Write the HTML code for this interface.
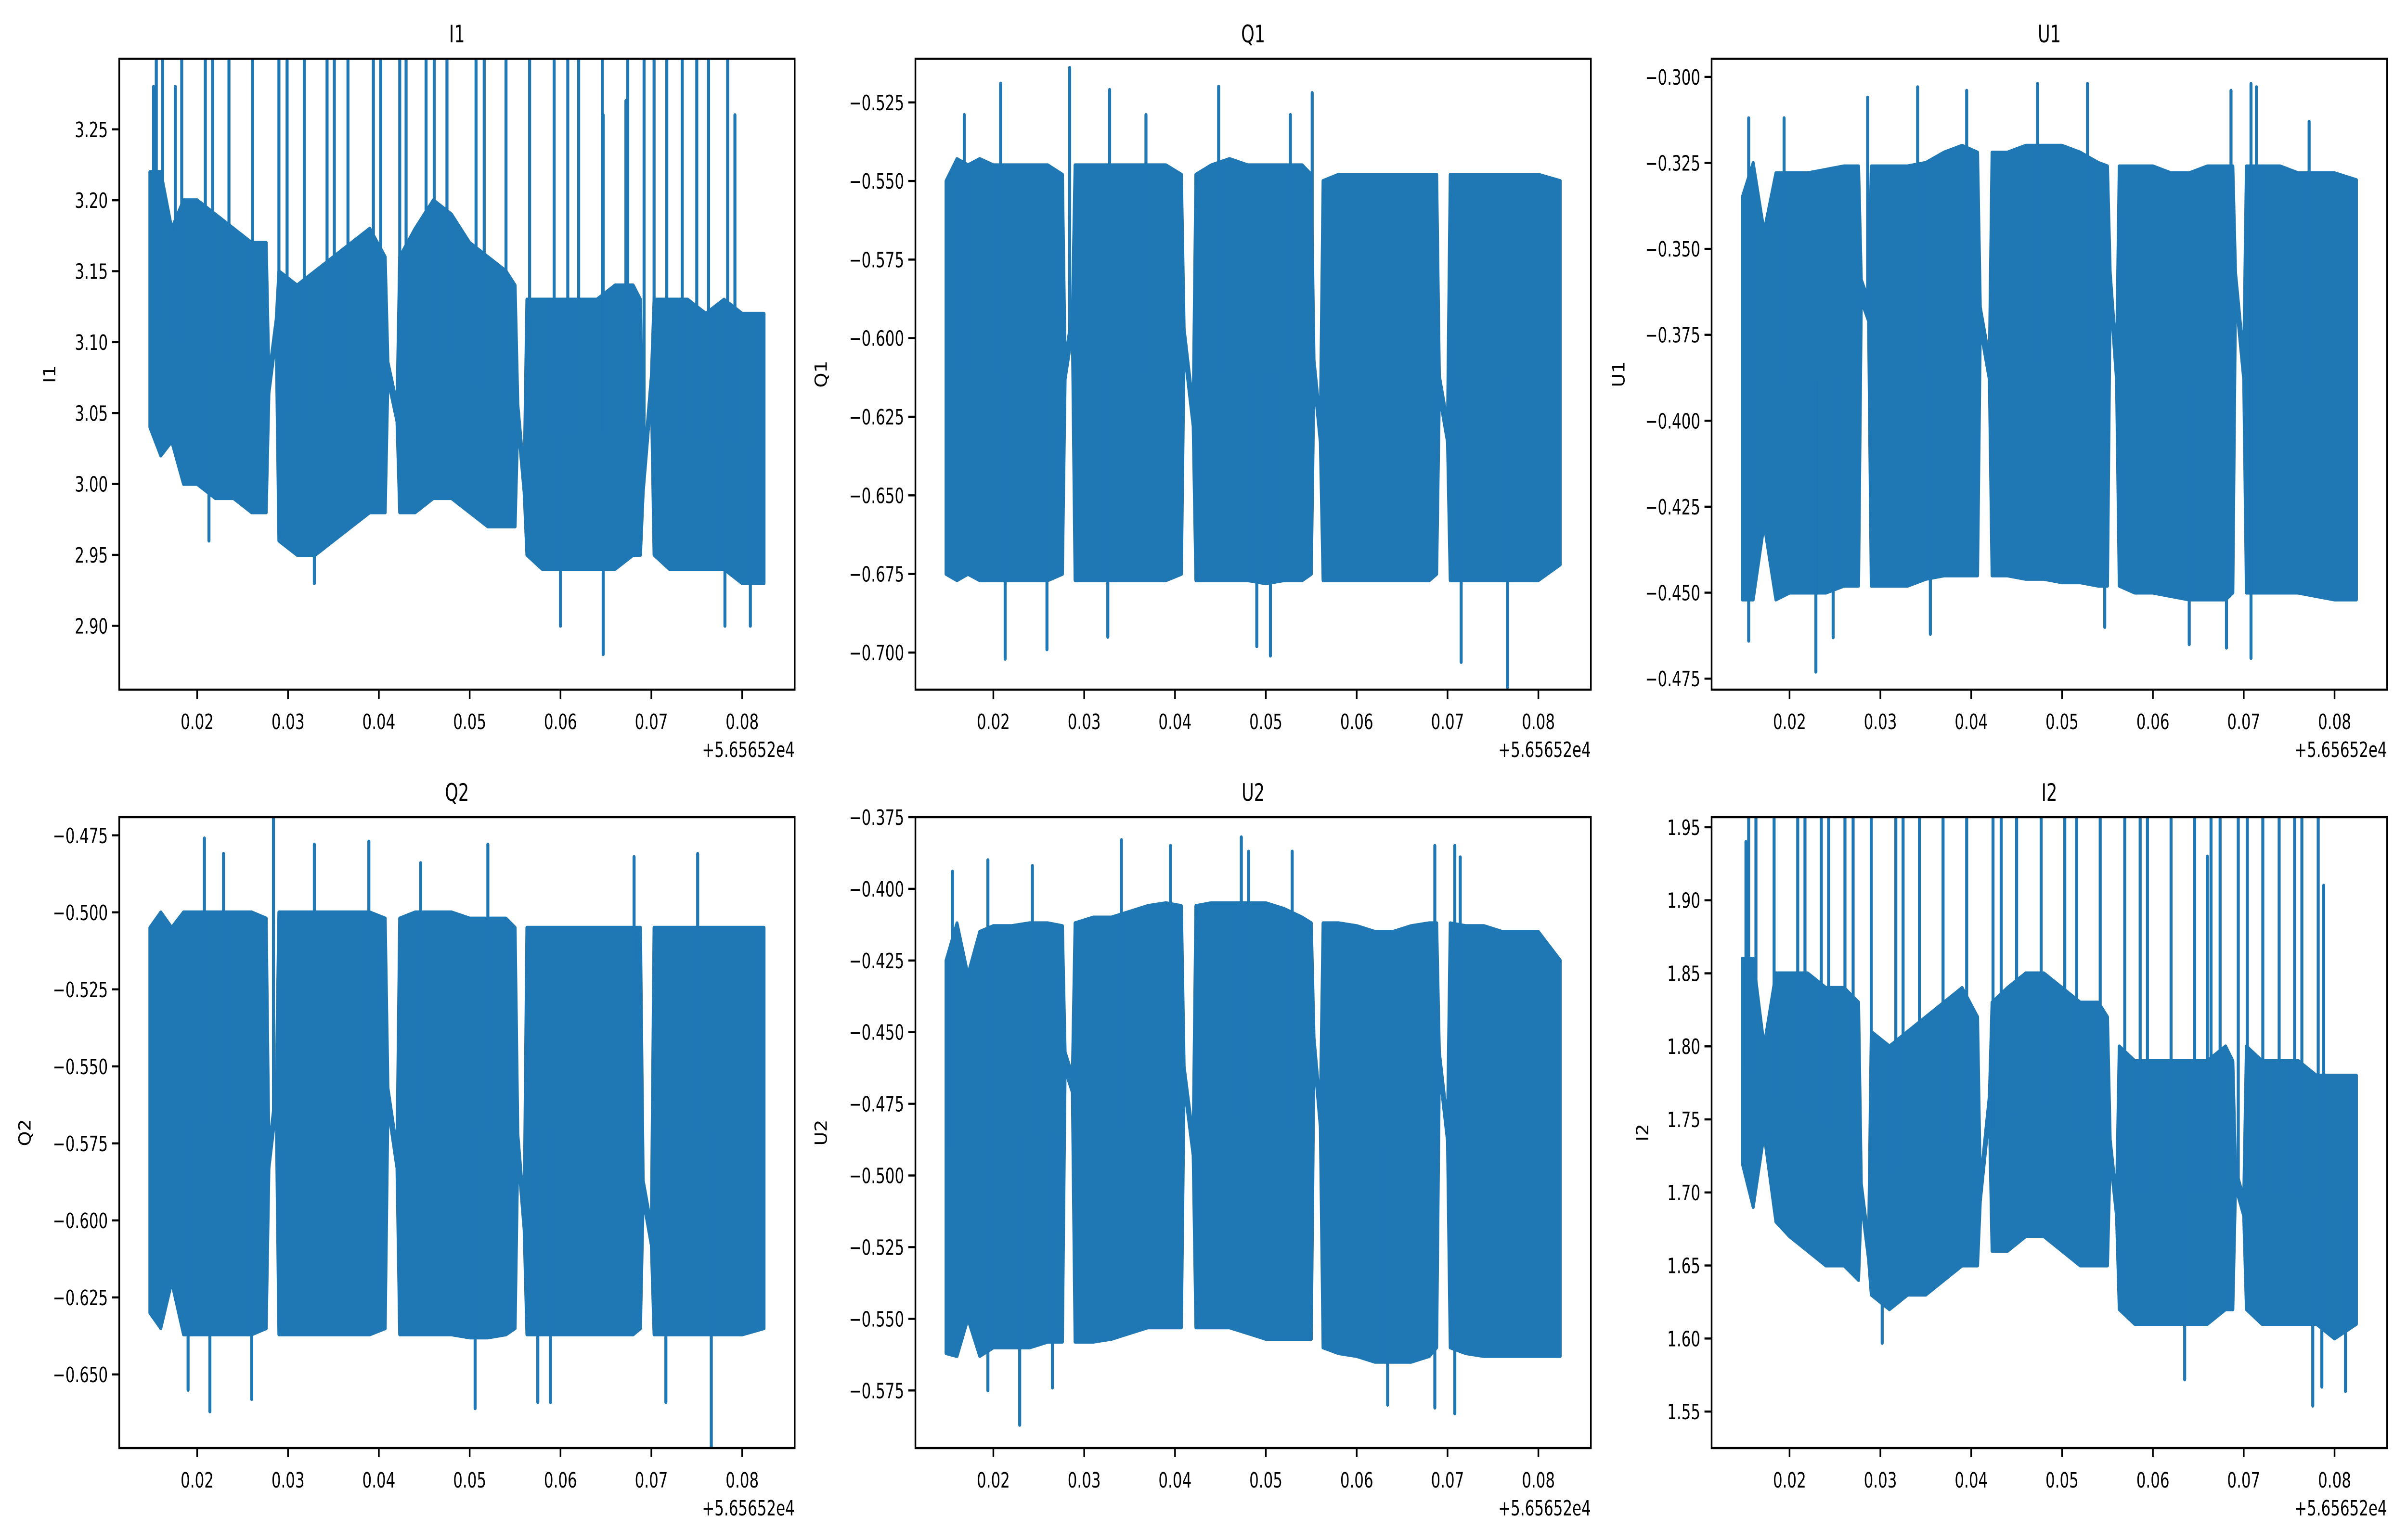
<!DOCTYPE html>
<html><head><meta charset="utf-8">
<style>
html,body{margin:0;padding:0;background:#fff;width:100%;height:100%;overflow:hidden;}
svg{display:block;width:100vw;height:100vh;}
text{font-family:"DejaVu Sans Condensed","DejaVu Sans","Liberation Sans",sans-serif;fill:#000;}
</style></head>
<body>
<svg id="fig" xmlns="http://www.w3.org/2000/svg" viewBox="0 0 6400 3200" preserveAspectRatio="none">
<rect width="6400" height="3200" fill="#fff"/>
</svg>
<script>
// ---- data ----
const times = [0.0148,0.0160,0.0172,0.0185,0.0200,0.0220,0.0240,0.0260,0.0276,
 0.0279,0.0287,
 0.0290,0.0310,0.0330,0.0350,0.0370,0.0390,0.0407,
 0.0410,0.0420,
 0.0423,0.0440,0.0460,0.0480,0.0500,0.0520,0.0540,0.0550,
 0.0553,0.0560,
 0.0563,0.0580,0.0600,0.0620,0.0640,0.0660,0.0680,0.0688,
 0.0691,0.0700,
 0.0703,0.0720,0.0740,0.0760,0.0780,0.0800,0.0824];
const xTicks = [0.02,0.03,0.04,0.05,0.06,0.07,0.08];
const xTickLabels = ["0.02","0.03","0.04","0.05","0.06","0.07","0.08"];

const i1Upper = [3.22,3.22,3.18,3.20,3.20,3.19,3.18,3.17,3.17, 3.076,3.116, 3.15,3.14,3.15,3.16,3.17,3.18,3.16, 3.086,3.056, 3.16,3.18,3.20,3.19,3.17,3.16,3.15,3.14, 3.056,3.006, 3.13,3.13,3.13,3.13,3.13,3.14,3.14,3.13, 3.006,3.076, 3.13,3.13,3.13,3.12,3.13,3.12,3.12];
const i1Lower = [3.04,3.02,3.03,3.00,3.00,2.99,2.99,2.98,2.98, 3.064,3.104, 2.96,2.95,2.95,2.96,2.97,2.98,2.98, 3.074,3.044, 2.98,2.98,2.99,2.99,2.98,2.97,2.97,2.97, 3.044,2.994, 2.95,2.94,2.94,2.94,2.94,2.94,2.95,2.95, 2.994,3.064, 2.95,2.94,2.94,2.94,2.94,2.93,2.93];
const i1SpikeT = [0.0155,0.0162,0.0183,0.0209,0.0217,0.0235,0.0261,0.0290,0.0299,0.0318,0.0343,0.0351,0.0366,0.0394,0.0402,0.0423,0.0430,0.0452,0.0461,0.0475,0.0507,0.0516,0.0540,0.0566,0.0593,0.0608,0.0620,0.0646,0.0674,0.0692,0.0703,0.0717,0.0734,0.0750,0.0763,0.0784,0.0152,0.0176,0.0647,0.0672,0.0792,0.0647,0.0600,0.0781,0.0809,0.0213,0.0329];
const i1SpikeV = [3.35,3.35,3.35,3.35,3.35,3.35,3.35,3.35,3.35,3.35,3.35,3.35,3.35,3.35,3.35,3.35,3.35,3.35,3.35,3.35,3.35,3.35,3.35,3.35,3.35,3.35,3.35,3.35,3.35,3.35,3.35,3.35,3.35,3.35,3.35,3.35,3.28,3.28,3.26,3.27,3.26,2.88,2.90,2.90,2.90,2.96,2.93];

const q1Upper = [-0.550,-0.543,-0.545,-0.543,-0.545,-0.545,-0.545,-0.545,-0.548, -0.607,-0.592, -0.545,-0.545,-0.545,-0.545,-0.545,-0.545,-0.548, -0.597,-0.622, -0.548,-0.545,-0.543,-0.545,-0.545,-0.545,-0.545,-0.548, -0.607,-0.627, -0.550,-0.548,-0.548,-0.548,-0.548,-0.548,-0.548,-0.548, -0.612,-0.627, -0.548,-0.548,-0.548,-0.548,-0.548,-0.548,-0.550];
const q1Lower = [-0.675,-0.677,-0.675,-0.677,-0.677,-0.677,-0.677,-0.677,-0.675, -0.613,-0.598, -0.677,-0.677,-0.677,-0.677,-0.677,-0.677,-0.675, -0.603,-0.628, -0.677,-0.677,-0.677,-0.677,-0.678,-0.677,-0.677,-0.675, -0.613,-0.633, -0.677,-0.677,-0.677,-0.677,-0.677,-0.677,-0.677,-0.675, -0.618,-0.633, -0.677,-0.677,-0.677,-0.677,-0.677,-0.677,-0.672];
const q1SpikeT = [0.0208,0.0284,0.0328,0.0448,0.0551,0.0527,0.0368,0.0168,0.0213,0.0259,0.0326,0.0505,0.0766,0.0715,0.0490];
const q1SpikeV = [-0.519,-0.514,-0.521,-0.520,-0.522,-0.529,-0.529,-0.529,-0.702,-0.699,-0.695,-0.701,-0.711,-0.703,-0.698];

const u1Upper = [-0.335,-0.325,-0.345,-0.328,-0.328,-0.328,-0.327,-0.326,-0.326, -0.359,-0.365, -0.326,-0.326,-0.326,-0.325,-0.322,-0.320,-0.322, -0.367,-0.382, -0.322,-0.322,-0.320,-0.320,-0.320,-0.322,-0.325,-0.326, -0.357,-0.382, -0.326,-0.326,-0.326,-0.328,-0.328,-0.326,-0.326,-0.326, -0.357,-0.382, -0.326,-0.326,-0.326,-0.328,-0.328,-0.328,-0.330];
const u1Lower = [-0.452,-0.452,-0.430,-0.452,-0.450,-0.450,-0.450,-0.448,-0.448, -0.365,-0.371, -0.448,-0.448,-0.448,-0.446,-0.445,-0.445,-0.445, -0.373,-0.388, -0.445,-0.445,-0.446,-0.446,-0.447,-0.447,-0.448,-0.448, -0.363,-0.388, -0.448,-0.450,-0.450,-0.451,-0.452,-0.452,-0.452,-0.450, -0.363,-0.388, -0.450,-0.450,-0.450,-0.450,-0.451,-0.452,-0.452];
const u1SpikeT = [0.0155,0.0194,0.0286,0.0341,0.0395,0.0473,0.0528,0.0686,0.0708,0.0714,0.0772,0.0229,0.0248,0.0155,0.0708,0.0681,0.0640,0.0355,0.0547];
const u1SpikeV = [-0.312,-0.312,-0.306,-0.303,-0.304,-0.302,-0.302,-0.304,-0.302,-0.303,-0.313,-0.473,-0.463,-0.464,-0.469,-0.466,-0.465,-0.462,-0.460];

const q2Upper = [-0.505,-0.500,-0.505,-0.500,-0.500,-0.500,-0.500,-0.500,-0.502, -0.577,-0.557, -0.500,-0.500,-0.500,-0.500,-0.500,-0.500,-0.502, -0.557,-0.577, -0.502,-0.500,-0.500,-0.500,-0.502,-0.502,-0.502,-0.505, -0.572,-0.597, -0.505,-0.505,-0.505,-0.505,-0.505,-0.505,-0.505,-0.505, -0.587,-0.602, -0.505,-0.505,-0.505,-0.505,-0.505,-0.505,-0.505];
const q2Lower = [-0.630,-0.635,-0.620,-0.637,-0.637,-0.637,-0.637,-0.637,-0.635, -0.583,-0.563, -0.637,-0.637,-0.637,-0.637,-0.637,-0.637,-0.635, -0.563,-0.583, -0.637,-0.637,-0.637,-0.637,-0.638,-0.638,-0.637,-0.635, -0.578,-0.603, -0.637,-0.637,-0.637,-0.637,-0.637,-0.637,-0.637,-0.635, -0.593,-0.608, -0.637,-0.637,-0.637,-0.637,-0.637,-0.637,-0.635];
const q2SpikeT = [0.0284,0.0208,0.0229,0.0329,0.0389,0.0520,0.0751,0.0681,0.0446,0.0214,0.0260,0.0766,0.0506,0.0716,0.0575,0.0589,0.0190];
const q2SpikeV = [-0.460,-0.476,-0.481,-0.478,-0.477,-0.478,-0.481,-0.482,-0.484,-0.662,-0.658,-0.680,-0.661,-0.659,-0.659,-0.659,-0.655];

const u2Upper = [-0.425,-0.412,-0.430,-0.415,-0.413,-0.413,-0.412,-0.412,-0.413, -0.457,-0.465, -0.412,-0.410,-0.410,-0.408,-0.406,-0.405,-0.406, -0.462,-0.487, -0.406,-0.405,-0.405,-0.405,-0.405,-0.407,-0.410,-0.412, -0.452,-0.477, -0.412,-0.412,-0.413,-0.415,-0.415,-0.413,-0.412,-0.412, -0.457,-0.482, -0.412,-0.413,-0.413,-0.415,-0.415,-0.415,-0.425];
const u2Lower = [-0.562,-0.563,-0.550,-0.563,-0.560,-0.560,-0.560,-0.558,-0.558, -0.463,-0.471, -0.558,-0.558,-0.557,-0.555,-0.553,-0.553,-0.553, -0.468,-0.493, -0.553,-0.553,-0.553,-0.555,-0.557,-0.557,-0.557,-0.557, -0.458,-0.483, -0.560,-0.562,-0.563,-0.565,-0.565,-0.565,-0.563,-0.560, -0.463,-0.488, -0.560,-0.562,-0.563,-0.563,-0.563,-0.563,-0.563];
const u2SpikeT = [0.0155,0.0194,0.0243,0.0341,0.0395,0.0473,0.0481,0.0529,0.0686,0.0708,0.0714,0.0229,0.0708,0.0634,0.0686,0.0194,0.0265];
const u2SpikeV = [-0.394,-0.390,-0.392,-0.383,-0.385,-0.382,-0.387,-0.387,-0.385,-0.385,-0.389,-0.587,-0.583,-0.580,-0.581,-0.575,-0.574];

const i2Upper = [1.86,1.86,1.80,1.85,1.85,1.85,1.84,1.84,1.83, 1.706,1.666, 1.81,1.80,1.81,1.82,1.83,1.84,1.82, 1.706,1.766, 1.83,1.84,1.85,1.85,1.84,1.83,1.83,1.82, 1.736,1.696, 1.80,1.79,1.79,1.79,1.79,1.79,1.80,1.79, 1.716,1.696, 1.80,1.79,1.79,1.79,1.78,1.78,1.78];
const i2Lower = [1.72,1.69,1.74,1.68,1.67,1.66,1.65,1.65,1.64, 1.694,1.654, 1.63,1.62,1.63,1.63,1.64,1.65,1.65, 1.694,1.754, 1.66,1.66,1.67,1.67,1.66,1.65,1.65,1.65, 1.724,1.684, 1.62,1.61,1.61,1.61,1.61,1.61,1.62,1.62, 1.704,1.684, 1.62,1.61,1.61,1.61,1.61,1.60,1.61];
const i2SpikeT = [0.0155,0.0163,0.0183,0.0209,0.0217,0.0235,0.0243,0.0261,0.0270,0.0290,0.0317,0.0325,0.0343,0.0369,0.0395,0.0424,0.0433,0.0450,0.0477,0.0503,0.0516,0.0542,0.0569,0.0586,0.0594,0.0620,0.0646,0.0664,0.0674,0.0694,0.0704,0.0721,0.0739,0.0756,0.0764,0.0782,0.0152,0.0635,0.0776,0.0812,0.0786,0.0302,0.0660,0.0788];
const i2SpikeV = [2.00,2.00,2.00,2.00,2.00,2.00,2.00,2.00,2.00,2.00,2.00,2.00,2.00,2.00,2.00,2.00,2.00,2.00,2.00,2.00,2.00,2.00,2.00,2.00,2.00,2.00,2.00,2.00,2.00,2.00,2.00,2.00,2.00,2.00,2.00,2.00,1.94,1.572,1.554,1.564,1.567,1.597,1.93,1.91];

const i1Ticks = [2.90,2.95,3.00,3.05,3.10,3.15,3.20,3.25];
const q1Ticks = [-0.700,-0.675,-0.650,-0.625,-0.600,-0.575,-0.550,-0.525];
const u1Ticks = [-0.475,-0.450,-0.425,-0.400,-0.375,-0.350,-0.325,-0.300];
const q2Ticks = [-0.650,-0.625,-0.600,-0.575,-0.550,-0.525,-0.500,-0.475];
const u2Ticks = [-0.575,-0.550,-0.525,-0.500,-0.475,-0.450,-0.425,-0.400,-0.375];
const i2Ticks = [1.55,1.60,1.65,1.70,1.75,1.80,1.85,1.90,1.95];

// ---- layout ----
const NS = "http://www.w3.org/2000/svg";
const svg = document.getElementById('fig');
const XMIN = 0.01142, XMAX = 0.08578;
const W = 1796, H = 1311;
const BLUE = "#1f77b4";
const panels = [
 {key:'i1', title:'I1', left:317, top:122, ymin:2.855, ymax:3.2998, up:i1Upper, lo:i1Lower, st:i1SpikeT, sv:i1SpikeV, ticks:i1Ticks, dec:2, ylx:133},
 {key:'q1', title:'Q1', left:2434, top:122, ymin:-0.7118, ymax:-0.5111, up:q1Upper, lo:q1Lower, st:q1SpikeT, sv:q1SpikeV, ticks:q1Ticks, dec:3, ylx:2184},
 {key:'u1', title:'U1', left:4551, top:122, ymin:-0.4782, ymax:-0.2947, up:u1Upper, lo:u1Lower, st:u1SpikeT, sv:u1SpikeV, ticks:u1Ticks, dec:3, ylx:4305},
 {key:'q2', title:'Q2', left:317, top:1698, ymin:-0.6739, ymax:-0.4691, up:q2Upper, lo:q2Lower, st:q2SpikeT, sv:q2SpikeV, ticks:q2Ticks, dec:3, ylx:67},
 {key:'u2', title:'U2', left:2434, top:1698, ymin:-0.5951, ymax:-0.375, up:u2Upper, lo:u2Lower, st:u2SpikeT, sv:u2SpikeV, ticks:u2Ticks, dec:3, ylx:2184},
 {key:'i2', title:'I2', left:4551, top:1698, ymin:1.525, ymax:1.9569, up:i2Upper, lo:i2Lower, st:i2SpikeT, sv:i2SpikeV, ticks:i2Ticks, dec:2, ylx:4368}
];

function el(tag, attrs, parent){
  const e = document.createElementNS(NS, tag);
  for (const k in attrs) e.setAttribute(k, attrs[k]);
  (parent||svg).appendChild(e);
  return e;
}
function interp(arrT, arrV, t){
  if (t <= arrT[0]) return arrV[0];
  for (let i=1;i<arrT.length;i++){
    if (t <= arrT[i]){ const f=(t-arrT[i-1])/(arrT[i]-arrT[i-1]); return arrV[i-1]+f*(arrV[i]-arrV[i-1]); }
  }
  return arrV[arrV.length-1];
}
function fmt(v, d){ const s = Math.abs(v).toFixed(d); return (v<0?'\u2212':'')+s; }

panels.forEach((p, pi) => {
  const xs = t => p.left + (t - XMIN)/(XMAX - XMIN)*W;
  const ys = v => p.top + H - (v - p.ymin)/(p.ymax - p.ymin)*H;
  const g = el('g', {});
  
  

  const clip = el('clipPath', {id:'clip'+pi}, g);
  el('rect', {x:p.left, y:p.top, width:W, height:H}, clip);

  const plot = el('g', {'clip-path':'url(#clip'+pi+')'}, g);
  
  

  let d = '';
  times.forEach((t,i)=>{ d += (i?'L':'M') + xs(t).toFixed(1) + ',' + ys(p.up[i]).toFixed(1); });
  for (let i=times.length-1;i>=0;i--){ d += 'L' + xs(times[i]).toFixed(1) + ',' + ys(p.lo[i]).toFixed(1); }
  d += 'Z';
  const band = el('path', {d:d, fill:BLUE, stroke:BLUE, 'stroke-width':8, 'stroke-linejoin':'round'}, plot);
  
  

  p.st.forEach((t,i)=>{
    const v = p.sv[i];
    const mid = (interp(times,p.up,t) + interp(times,p.lo,t))/2;
    const ln = el('line', {x1:xs(t), y1:ys(mid), x2:xs(t), y2:ys(v), stroke:BLUE, 'stroke-width':8, 'stroke-linecap':'round'}, plot);
    
    
  });

  const fr = el('rect', {x:p.left, y:p.top, width:W, height:H, fill:'none', stroke:'#000', 'stroke-width':4.4}, g);
  
  

  xTicks.forEach((t,i)=>{
    const x = xs(t);
    el('line', {x1:x, y1:p.top+H, x2:x, y2:p.top+H+19, stroke:'#000', 'stroke-width':4.4}, g);
    const tx = el('text', {x:x, y:p.top+H+82, 'font-size':44, 'text-anchor':'middle'}, g);
    tx.textContent = xTickLabels[i];
    
    
  });
  const off = el('text', {x:p.left+W, y:p.top+H+140, 'font-size':44, 'text-anchor':'end'}, g);
  off.textContent = '+5.65652e4';
  
  

  p.ticks.forEach(v=>{
    const y = ys(v);
    el('line', {x1:p.left-19, y1:y, x2:p.left, y2:y, stroke:'#000', 'stroke-width':4.4}, g);
    const ty = el('text', {x:p.left-30, y:y+16, 'font-size':44, 'text-anchor':'end'}, g);
    ty.textContent = fmt(v, p.dec);
    
    
  });

  const cy = p.top + H/2;
  const yl = el('text', {x:p.ylx, y:cy, 'font-size':44, 'text-anchor':'middle', transform:'rotate(-90 '+p.ylx+' '+cy+')', 'dominant-baseline':'central'}, g);
  yl.textContent = p.title;
  
  

  const tt = el('text', {x:p.left+W/2, y:p.top-34, 'font-size':50, 'text-anchor':'middle'}, g);
  tt.textContent = p.title;
  
  
});
</script>
</body></html>
